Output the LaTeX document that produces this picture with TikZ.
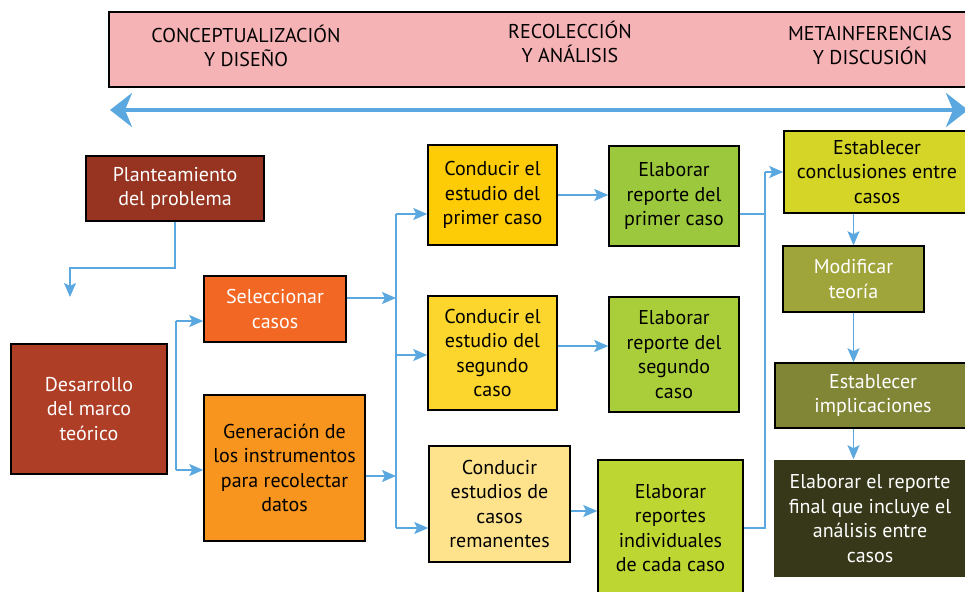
\documentclass[tikz,border=0pt]{standalone}
\usepackage{fontspec}
\setmainfont{PT Sans}
\newfontfamily\bannerfont{PT Sans}
\usetikzlibrary{arrows.meta}
\definecolor{banda}{HTML}{F6B3B6}
\definecolor{flecha}{HTML}{5AA8DF}
\definecolor{cafe}{HTML}{963421}
\definecolor{ladrillo}{HTML}{AF3E27}
\definecolor{naranja}{HTML}{F26723}
\definecolor{mandarina}{HTML}{F7951E}
\definecolor{oro}{HTML}{FECB07}
\definecolor{amarillo}{HTML}{FDD62D}
\definecolor{crema}{HTML}{FEE38C}
\definecolor{verde}{HTML}{9BC83D}
\definecolor{lima}{HTML}{AACE3A}
\definecolor{limon}{HTML}{BED632}
\definecolor{mostaza}{HTML}{D4D527}
\definecolor{oliva}{HTML}{A0A53B}
\definecolor{musgo}{HTML}{818637}
\definecolor{oscuro}{HTML}{37381A}
\begin{document}
\begin{tikzpicture}[x=1pt, y=-1pt,
	caja/.style={draw=black, line width=1.5pt, align=center, inner sep=2pt,
		font=\fontsize{20}{24.5}\selectfont},
	fase/.style={align=center, font=\bannerfont\fontsize{20}{24}\selectfont},
	conn/.style={draw=flecha, line width=1.6pt,
		-{Stealth[length=14pt, width=12pt, inset=3pt]}},
	bus/.style={draw=flecha, line width=1.6pt}]
	\useasboundingbox (0,0) rectangle (965,591);
	\clip (0,0) rectangle (965,591);
	% banda de fases
	\draw[fill=banda, line width=1.5pt] (109,12) rectangle (980,87);
	\node[fase] (fase1) at (246,46) {CONCEPTUALIZACIÓN\\Y DISEÑO};
	\node[fase] (fase2) at (570,42) {RECOLECCIÓN\\Y ANÁLISIS};
	\node[fase] (fase3) at (870,46) {METAINFERENCIAS\\Y DISCUSIÓN};
	\coordinate (izq) at (110,110);
	\coordinate (der) at (968,110);
	\draw[draw=flecha, line width=4pt, {Stealth[length=22pt, width=34pt, inset=7pt]}-{Stealth[length=22pt, width=34pt, inset=7pt]}] (izq) -- (der);
	% columna 1
	\node[caja, fill=cafe, text=white, minimum width=178pt, minimum height=65pt] (plant) at (175,188.5) {Planteamiento\\del problema};
	\node[caja, fill=ladrillo, text=white, minimum width=156pt, minimum height=130pt] (marco) at (89,409) {Desarrollo\\del marco\\teórico};
	\coordinate (p1) at (70,297);
	\draw[conn] (plant.south) -- ++(0,46) -| (p1);
	% columna 2
	\node[caja, fill=naranja, text=white, minimum width=142pt, minimum height=66pt] (selec) at (275,309) {Seleccionar\\casos};
	\node[caja, fill=mandarina, minimum width=161pt, minimum height=146pt] (gener) at (284.5,468) {Generación de\\los instrumentos\\para recolectar\\datos};
	\coordinate (b1a) at (176,321);
	\coordinate (b1b) at (176,470);
	\draw[bus] (b1a) -- (b1b);
	\draw[conn] (b1a) -- (b1a -| selec.west);
	\draw[conn] (b1b) -- (b1b -| gener.west);
	% columna 3
	\node[caja, fill=oro, minimum width=129pt, minimum height=100pt] (cond1) at (492.5,195) {Conducir el\\estudio del\\primer caso};
	\node[caja, fill=amarillo, minimum width=129pt, minimum height=114pt] (cond2) at (492.5,353) {Conducir el\\estudio del\\segundo\\caso};
	\node[caja, fill=crema, minimum width=141pt, minimum height=116pt] (cond3) at (499.5,504) {Conducir\\estudios de\\casos\\remanentes};
	\coordinate (b2a) at (396,214);
	\coordinate (b2b) at (396,355);
	\coordinate (b2c) at (396,528);
	\draw[bus] (b2a) -- (b2c);
	\draw[conn] ([yshift=11pt]selec.east) -- ([yshift=11pt]selec.east -| b2a);
	\draw[conn] ([yshift=-8pt]gener.east) -- ([yshift=-8pt]gener.east -| b2a);
	\draw[conn] (b2a) -- (b2a -| cond1.west);
	\draw[conn] (b2b) -- (b2b -| cond2.west);
	\draw[conn] (b2c) -- (b2c -| cond3.west);
	% columna 4
	\node[caja, fill=verde, minimum width=130pt, minimum height=100pt] (elab1) at (674,196) {Elaborar\\reporte del\\primer caso};
	\node[caja, fill=lima, minimum width=130pt, minimum height=115pt] (elab2) at (674,354.5) {Elaborar\\reporte del\\segundo\\caso};
	\node[caja, fill=limon, minimum width=145pt, minimum height=136pt] (elab3) at (670.5,528) {Elaborar\\reportes\\individuales\\de cada caso};
	\draw[conn] (cond1.east) -- (cond1.east -| elab1.west);
	\draw[conn] ([yshift=7pt]cond2.east) -- ([yshift=7pt]cond2.east -| elab2.west);
	\draw[conn] ([yshift=-7pt]cond3.east) -- ([yshift=-7pt]cond3.east -| elab3.west);
	% columna 5
	\node[caja, fill=mostaza, minimum width=186pt, minimum height=82pt] (concl) at (877,172) {Establecer\\conclusiones entre\\casos};
	\node[caja, fill=oliva, text=white, minimum width=141pt, minimum height=66pt] (modif) at (853.5,279) {Modificar\\teoría};
	\node[caja, fill=musgo, text=white, minimum width=196pt, minimum height=65pt] (impl) at (873,395.5) {Establecer\\implicaciones};
	\node[caja, draw=none, fill=oscuro, text=white, minimum width=192pt, minimum height=117pt] (final) at (870,518.5) {Elaborar el reporte\\final que incluye el\\análisis entre\\casos};
	\coordinate (b3a) at (765,172);
	\coordinate (b3b) at (765,214);
	\coordinate (b3c) at (765,528);
	\draw[bus] (elab1.east |- b3b) -- (b3b);
	\draw[bus] (elab3.east |- b3c) -- (b3c) -- (b3a);
	\draw[conn] (b3a) -- (concl.west);
	\draw[conn] (modif.north |- concl.south) -- (modif.north);
	\draw[conn] (modif.south) -- (modif.south |- impl.north);
	\draw[conn] (modif.south |- impl.south) -- (modif.south |- final.north);
\end{tikzpicture}
\end{document}
